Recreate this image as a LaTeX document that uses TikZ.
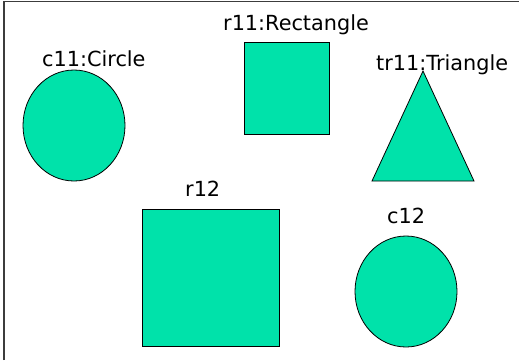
\documentclass[tikz,border=0pt]{standalone}
\usepackage{fontspec}
\setmainfont{DejaVu Sans}
\usetikzlibrary{shapes.geometric}
\definecolor{shapefill}{RGB}{0,226,170}
\definecolor{framegray}{RGB}{60,60,60}
\begin{document}
\begin{tikzpicture}[x=1pt,y=-1pt,
  shp/.style={draw=black,fill=shapefill,line width=0.8pt,inner sep=0pt,outer sep=0pt},
  lbl/.style={anchor=base west,inner sep=0pt,font=\fontsize{20.8}{24}\selectfont}]
\useasboundingbox (0,0) rectangle (519,360);
\draw[framegray,line width=1.2pt] (4,360) -- (4,1.5) -- (519,1.5);
% shapes
\node[shp,ellipse,minimum width=102pt,minimum height=111pt] (c11) at (74,125.5) {};
\node[shp,rectangle,minimum width=85pt,minimum height=92pt] (r11) at (286.5,88) {};
\draw[shp] (423,71) -- (474,181) -- (372,181) -- cycle;
\coordinate (tr11) at (423,140);
\node[shp,rectangle,minimum width=137pt,minimum height=137pt] (r12) at (210.5,277.5) {};
\node[shp,ellipse,minimum width=102pt,minimum height=111pt] (c12) at (406,291.5) {};
% labels
\node[lbl] (c11l) at (42,66) {c11:Circle};
\node[lbl] (r11l) at (223,30) {r11:Rectangle};
\node[lbl] (tr11l) at (376,70) {tr11:Triangle};
\node[lbl] (r12l) at (185,196) {r12};
\node[lbl] (c12l) at (387,223) {c12};
\end{tikzpicture}
\end{document}
